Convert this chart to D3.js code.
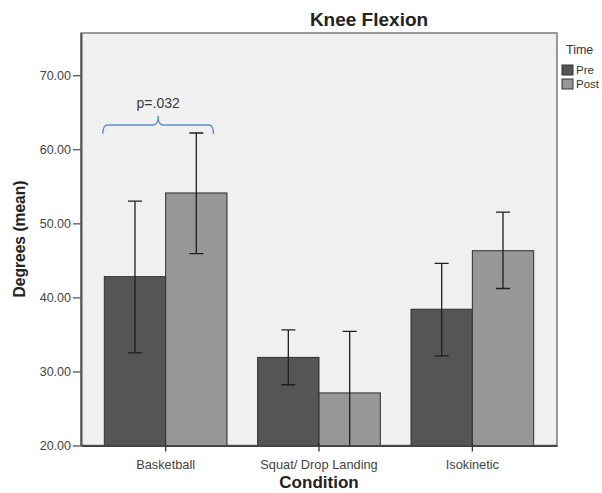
<!DOCTYPE html>
<html>
<head>
<meta charset="utf-8">
<script src="https://cdn.jsdelivr.net/npm/d3@7"></script>
<style>
  body { margin: 0; background: #fff; }
  svg { display: block; font-family: "Liberation Sans", Arial, sans-serif; }
</style>
</head>
<body>
<svg id="chart" width="602" height="493"></svg>
<script>
const conditions = ['Basketball', 'Squat/ Drop Landing', 'Isokinetic']
const times = ['Pre', 'Post']
const preMean = [42.8, 31.9, 38.4]
const preLow = [32.5, 28.2, 32.1]
const preHigh = [53.0, 35.6, 44.6]
const postMean = [54.1, 27.1, 46.3]
const postLow = [45.9, 18.8, 41.2]
const postHigh = [62.2, 35.4, 51.5]
const yTicks = [20, 30, 40, 50, 60, 70]
const colors = { Pre: '#555555', Post: '#979797' }

const svg = d3.select('#chart')
const plotLeft = 81, plotRight = 557, plotTop = 33, plotBottom = 445.5

const x = d3.scaleBand().domain(conditions).range([plotLeft, plotRight]).paddingInner(0.2).paddingOuter(0.152)
const xSub = d3.scaleBand().domain(times).range([0, x.bandwidth()])
const y = d3.scaleLinear().domain([20, 75.7]).range([plotBottom, plotTop])

const rows = []
conditions.forEach((c, i) => {
    rows.push({ cond: c, time: 'Pre', mean: preMean[i], lo: preLow[i], hi: preHigh[i] })
    rows.push({ cond: c, time: 'Post', mean: postMean[i], lo: postLow[i], hi: postHigh[i] })
})

// plot background
svg.append('rect')
    .attr('x', plotLeft).attr('y', plotTop)
    .attr('width', plotRight - plotLeft).attr('height', plotBottom - plotTop)
    .attr('fill', '#f0f0f0')
    .attr('stroke', '#7a7a7a')
    .attr('stroke-width', 1.5)

svg.append('defs').append('clipPath').attr('id', 'plot-clip')
    .append('rect').attr('x', plotLeft).attr('y', plotTop).attr('width', plotRight - plotLeft).attr('height', plotBottom - plotTop)

const bars = svg.append('g').attr('clip-path', 'url(#plot-clip)')

bars.selectAll('.bar')
    .data(rows)
    .enter().append('rect')
    .attr('class', 'bar')
    .attr('x', d => x(d.cond) + xSub(d.time))
    .attr('y', d => y(d.mean))
    .attr('width', xSub.bandwidth())
    .attr('height', d => y(20) - y(d.mean))
    .attr('fill', d => colors[d.time])
    .attr('stroke', '#2e2e2e')
    .attr('stroke-width', 1)

const err = bars.selectAll('.err')
    .data(rows)
    .enter().append('g')
    .attr('class', 'err')
    .attr('transform', d => `translate(${x(d.cond) + xSub(d.time) + xSub.bandwidth() / 2},0)`)

err.append('line')
    .attr('y1', d => y(d.lo)).attr('y2', d => y(d.hi))
    .attr('stroke', '#1e1e1e').attr('stroke-width', 1.3)
err.append('line')
    .attr('x1', -7).attr('x2', 7)
    .attr('y1', d => y(d.hi)).attr('y2', d => y(d.hi))
    .attr('stroke', '#1e1e1e').attr('stroke-width', 1.3)
err.filter(d => d.lo >= 20).append('line')
    .attr('x1', -7).attr('x2', 7)
    .attr('y1', d => y(d.lo)).attr('y2', d => y(d.lo))
    .attr('stroke', '#1e1e1e').attr('stroke-width', 1.3)

// axes
const yAxis = svg.append('g')
    .attr('transform', `translate(${plotLeft},0)`)
    .call(d3.axisLeft(y).tickValues(yTicks).tickFormat(d3.format('.2f')).tickSize(8).tickSizeOuter(0).tickPadding(2))
yAxis.select('.domain').attr('stroke', '#555').attr('stroke-width', 2)
yAxis.selectAll('.tick line').attr('stroke', '#555').attr('stroke-width', 1.3)
yAxis.selectAll('.tick text').attr('fill', '#444').style('font-size', '12.5px')

const xAxis = svg.append('g')
    .attr('transform', `translate(0,${plotBottom})`)
    .call(d3.axisBottom(x).tickSize(6).tickSizeOuter(0).tickPadding(8))
xAxis.select('.domain').attr('stroke', '#444').attr('stroke-width', 1.8)
xAxis.selectAll('.tick line').attr('stroke', '#333').attr('stroke-width', 1.3).attr('y1', -2)
xAxis.selectAll('.tick text').attr('fill', '#444').style('font-size', '12.8px')

// titles
svg.append('text')
    .attr('x', 369).attr('y', 26)
    .attr('text-anchor', 'middle')
    .style('font-size', '19px').style('font-weight', 'bold')
    .attr('fill', '#222')
    .text('Knee Flexion')

svg.append('text')
    .attr('x', 319).attr('y', 488)
    .attr('text-anchor', 'middle')
    .style('font-size', '17px').style('font-weight', 'bold')
    .attr('fill', '#222')
    .text('Condition')

svg.append('text')
    .attr('transform', 'translate(25,239) rotate(-90)')
    .attr('text-anchor', 'middle')
    .style('font-size', '15.6px').style('font-weight', 'bold')
    .attr('fill', '#222')
    .text('Degrees (mean)')

// legend
const legend = svg.append('g')
legend.append('text')
    .attr('x', 566).attr('y', 54)
    .style('font-size', '12.5px').attr('fill', '#333')
    .text('Time')
const items = legend.selectAll('.item')
    .data(times)
    .enter().append('g')
    .attr('transform', (d, i) => `translate(562,${65 + i * 14})`)
items.append('rect')
    .attr('width', 11).attr('height', 10)
    .attr('fill', d => colors[d])
    .attr('stroke', '#333').attr('stroke-width', 1)
items.append('text')
    .attr('x', 14).attr('y', 9)
    .style('font-size', '11.5px').attr('fill', '#333')
    .text(d => d)

// significance bracket over basketball
const bx0 = x('Basketball') - 1.5, bx1 = x('Basketball') + x.bandwidth() - 13.5
const bmid = (bx0 + bx1) / 2
const by = 125
const bracket = d3.path()
bracket.moveTo(bx0, by + 9)
bracket.quadraticCurveTo(bx0, by, bx0 + 5, by)
bracket.lineTo(bmid - 5, by)
bracket.quadraticCurveTo(bmid, by, bmid, by - 9)
bracket.quadraticCurveTo(bmid, by, bmid + 5, by)
bracket.lineTo(bx1 - 5, by)
bracket.quadraticCurveTo(bx1, by, bx1, by + 9)
svg.append('path')
    .attr('d', bracket.toString())
    .attr('fill', 'none')
    .attr('stroke', '#5b8ed2')
    .attr('stroke-width', 1.3)

svg.append('text')
    .attr('x', bmid).attr('y', 108)
    .attr('text-anchor', 'middle')
    .style('font-size', '14px').attr('fill', '#3a3a3a')
    .text('p=.032')
</script>
</body>
</html>
